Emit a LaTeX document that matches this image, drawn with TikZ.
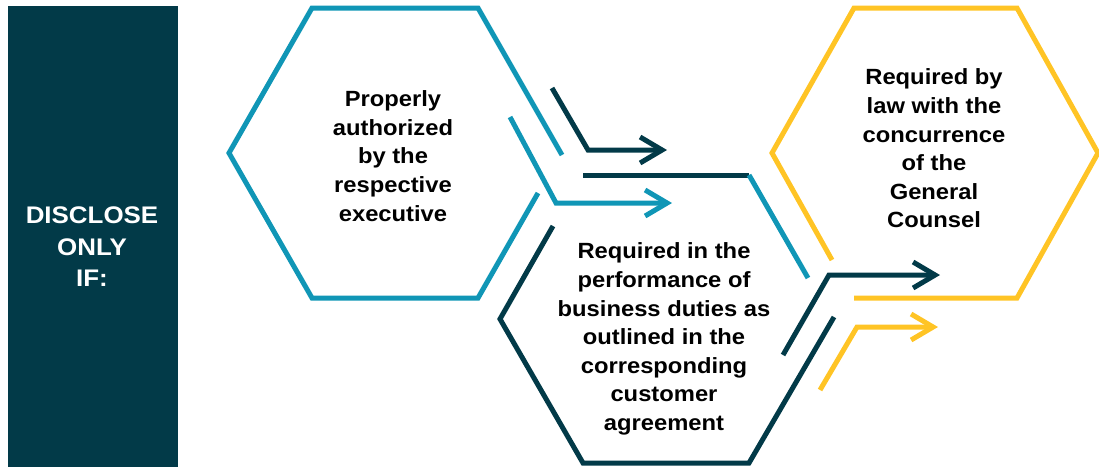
\documentclass[tikz,border=0pt]{standalone}
\usepackage{fontspec}
\setmainfont{Liberation Sans}[FakeStretch=1.08]
\usetikzlibrary{arrows.meta}
\definecolor{dk}{HTML}{023A48}
\definecolor{bl}{HTML}{1096B6}
\definecolor{yl}{HTML}{FFC425}
\tikzset{
  edge/.style={line width=5pt, line join=miter},
  arr/.style={line width=5pt, -{Straight Barb[length=22pt,width=26pt]}},
  hextext/.style={align=center, inner sep=0pt, font=\fontsize{22}{28.6}\selectfont\bfseries},
  sidetext/.style={align=center, inner sep=0pt, text=white, font=\fontsize{24}{31.5}\selectfont\bfseries}
}
\begin{document}
\begin{tikzpicture}[x=1pt,y=-1pt]
\useasboundingbox (0,0) rectangle (1099,467);
% side bar
\fill[dk] (8,6) rectangle (178,467);
\node[sidetext] (side) at (92,247) {DISCLOSE\\ONLY\\IF:};

% hexagon 1 (blue)
\coordinate (h1L) at (229,153);
\coordinate (h1TL) at (312,8);
\coordinate (h1TR) at (478,8);
\coordinate (h1R) at (562,155);
\coordinate (h1BR) at (478,298);
\coordinate (h1BL) at (312,298);
\coordinate (h1E) at (538,193);
\draw[edge, bl] (h1E) -- (h1BR) -- (h1BL) -- (h1L) -- (h1TL) -- (h1TR) -- (h1R);
\node[hextext] (t1) at (393,156) {Properly\\authorized\\by the\\respective\\executive};

% hexagon 2 (dark)
\coordinate (h2L) at (500,319);
\coordinate (h2TL) at (583,175);
\coordinate (h2TR) at (749,175);
\coordinate (h2R) at (834,317);
\coordinate (h2BR) at (749,463);
\coordinate (h2BL) at (583,463);
\coordinate (h2F) at (553,226);
\coordinate (h2U) at (808,278);
\draw[edge, dk] (h2F) -- (h2L) -- (h2BL) -- (h2BR) -- (h2R);
\draw[edge, dk] (h2TL) -- (h2TR);
\draw[edge, bl] (h2TR) -- (h2U);
\node[hextext] (t2) at (664,339) {Required in the\\performance of\\business duties as\\outlined in the\\corresponding\\customer\\agreement};

% hexagon 3 (yellow)
\coordinate (h3L) at (772,153);
\coordinate (h3TL) at (854,8);
\coordinate (h3TR) at (1017,8);
\coordinate (h3R) at (1098,153);
\coordinate (h3BR) at (1017,298);
\coordinate (h3BL) at (854,298);
\coordinate (h3G) at (832,260);
\draw[edge, yl] (h3BL) -- (h3BR) -- (h3R) -- (h3TR) -- (h3TL) -- (h3L) -- (h3G);
\node[hextext] (t3) at (934,148.5) {Required by\\law with the\\concurrence\\of the\\General\\Counsel};

% junction 1 arrows
\coordinate (a1s) at (552,88);
\coordinate (a1b) at (588,150);
\coordinate (a1e) at (667,150);
\draw[arr, dk] (a1s) -- (a1b) -- (a1e);
\coordinate (a2s) at (510,117);
\coordinate (a2b) at (556,203);
\coordinate (a2e) at (672,203);
\draw[arr, bl] (a2s) -- (a2b) -- (a2e);

% junction 2 arrows
\coordinate (a3s) at (783,355);
\coordinate (a3b) at (829,275);
\coordinate (a3e) at (940,275);
\draw[arr, dk] (a3s) -- (a3b) -- (a3e);
\coordinate (a4s) at (820,390);
\coordinate (a4b) at (857,327);
\coordinate (a4e) at (938,327);
\draw[arr, yl] (a4s) -- (a4b) -- (a4e);
\end{tikzpicture}
\end{document}
